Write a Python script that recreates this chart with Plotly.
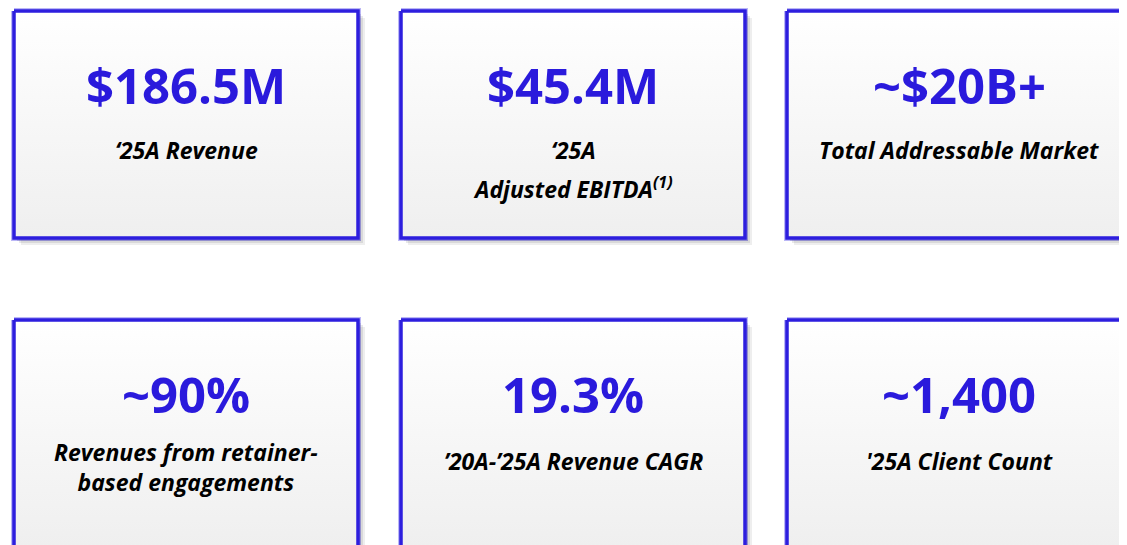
import plotly.graph_objects as go

# ---- data ----
metric_values = ["$186.5M", "$45.4M", "~$20B+", "~90%", "19.3%", "~1,400"]
metric_labels = [
    ["\u201825A Revenue"],
    ["\u201825A", "Adjusted EBITDA<sup>(1)</sup>"],
    ["Total Addressable Market"],
    ["Revenues from retainer-", "based engagements"],
    ["\u201920A-\u201925A Revenue CAGR"],
    ["'25A Client Count"],
]

# ---- layout parameters ----
W, H = 1127, 545
OFF = 8                 # page body margin
col_left = [14, 401, 787]
row_top = [11, 320]
box_w, box_h = 344, 227
value_dy = 74                          # value centre below box top
label_first_dy = [139, 139, 139, 133, 141, 141]
line_gap = [38, 38, 38, 28, 28, 28]
border_col = "rgb(45,30,222)"
value_col = "rgb(42,26,220)"
label_font = dict(family="Open Sans", size=23, color="#000000",
                  weight="bold", style="italic")

fig = go.Figure()
annotations = []

for i, (val, lab) in enumerate(zip(metric_values, metric_labels)):
    r, c = divmod(i, 3)
    x0, y0 = col_left[c], row_top[r]
    x1, y1 = x0 + box_w, y0 + box_h
    # shadow
    for k, op in [(7, 0.10), (5, 0.14), (3, 0.18)]:
        fig.add_trace(go.Scatter(
            x=[x0 + k, x1 + k, x1 + k, x0 + k, x0 + k],
            y=[y0 + k, y0 + k, y1 + k, y1 + k, y0 + k],
            mode="lines", fill="toself", line=dict(width=0),
            fillcolor=f"rgba(90,90,90,{op})", hoverinfo="skip", showlegend=False))
    # glow
    fig.add_trace(go.Scatter(
        x=[x0, x1, x1, x0, x0], y=[y0, y0, y1, y1, y0],
        mode="lines", line=dict(color="rgba(60,50,230,0.35)", width=6),
        hoverinfo="skip", showlegend=False))
    # box with gradient
    fig.add_trace(go.Scatter(
        x=[x0, x1, x1, x0, x0], y=[y0, y0, y1, y1, y0],
        mode="lines", fill="toself",
        fillgradient=dict(type="vertical", start=y0, stop=y1,
                          colorscale=[[0, "#ffffff"], [1, "#efefef"]]),
        line=dict(color=border_col, width=3.5),
        hoverinfo="skip", showlegend=False))
    cx = (x0 + x1) / 2
    annotations.append(dict(
        x=cx, y=y0 + value_dy, xref="x", yref="y", text=val, showarrow=False,
        font=dict(family="Open Sans", size=49, color=value_col, weight="bold"),
        xanchor="center", yanchor="middle"))
    if len(lab) > 1 and line_gap[i] < 32:
        # tightly spaced lines: one multi-line text block
        yc = y0 + label_first_dy[i] + (len(lab) - 1) * line_gap[i] / 2
        annotations.append(dict(
            x=cx, y=yc, xref="x", yref="y", text="<br>".join(lab),
            showarrow=False, font=label_font, align="center",
            xanchor="center", yanchor="middle"))
    else:
        for j, line in enumerate(lab):
            annotations.append(dict(
                x=cx, y=y0 + label_first_dy[i] + j * line_gap[i], xref="x", yref="y",
                text=line, showarrow=False, font=label_font,
                xanchor="center", yanchor="middle"))

fig.update_layout(
    width=W, height=H, margin=dict(l=0, r=0, t=0, b=0),
    paper_bgcolor="white", plot_bgcolor="white",
    xaxis=dict(range=[OFF, W + OFF], visible=False, fixedrange=True),
    yaxis=dict(range=[H + OFF, OFF], visible=False, fixedrange=True),
    annotations=annotations, showlegend=False,
)
fig.write_html("out.html")
